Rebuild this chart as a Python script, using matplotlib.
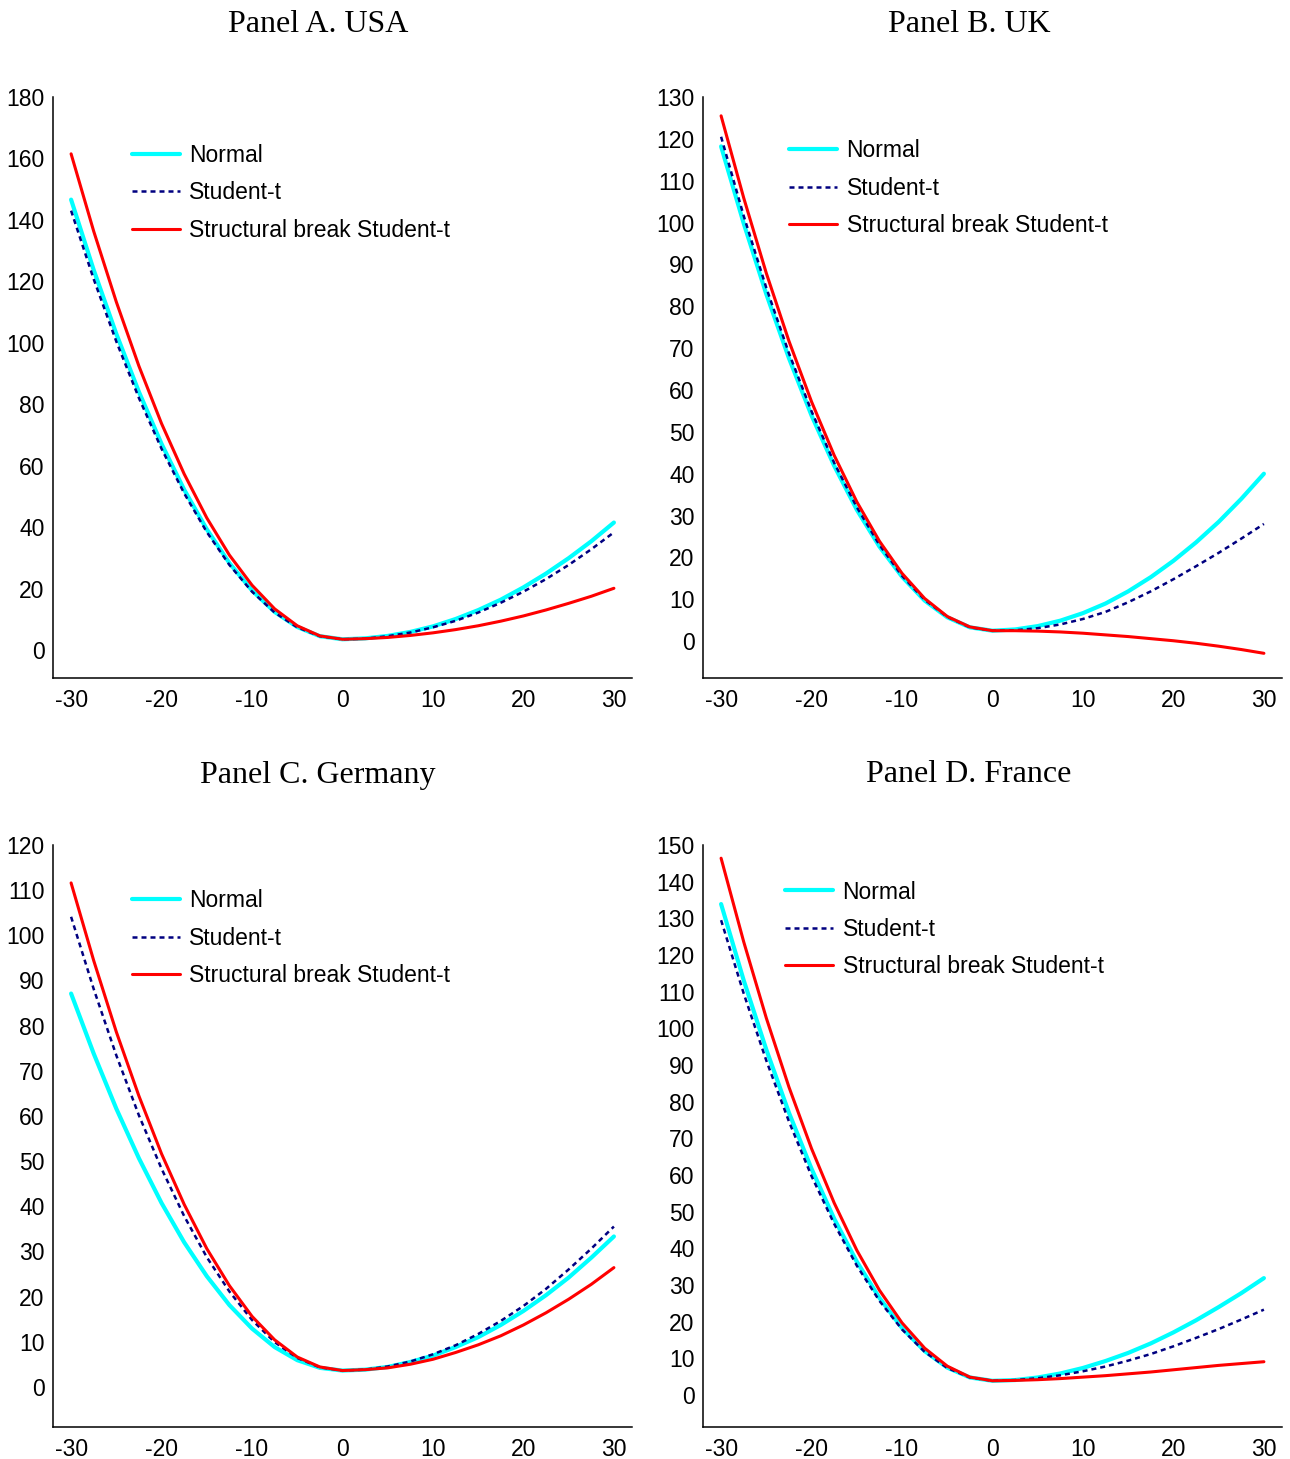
import matplotlib
matplotlib.use("Agg")
import matplotlib.pyplot as plt
from matplotlib import font_manager

plt.rcParams["axes.unicode_minus"] = False

# shock grid (x axis) shared by all panels
shock = [-30, -27.5, -25, -22.5, -20, -17.5, -15, -12.5, -10, -7.5, -5, -2.5, 0,
         2.5, 5, 7.5, 10, 12.5, 15, 17.5, 20, 22.5, 25, 27.5, 30]

titles = ["Panel A. USA", "Panel B. UK", "Panel C. Germany", "Panel D. France"]
labels = ["Normal", "Student-t", "Structural break Student-t"]

usa_normal = [146.6, 123.7, 102.9, 84.0, 67.1, 52.2, 39.3, 28.3, 19.4, 12.4, 7.5, 4.5, 3.5,
              3.8, 4.6, 5.9, 7.7, 10.1, 13.0, 16.4, 20.4, 24.9, 29.9, 35.4, 41.5]
usa_student = [143.0, 120.7, 100.4, 82.0, 65.5, 51.0, 38.4, 27.7, 19.0, 12.2, 7.4, 4.5, 3.5,
               3.7, 4.5, 5.7, 7.4, 9.5, 12.2, 15.4, 19.0, 23.1, 27.7, 32.8, 38.3]
usa_break = [161.5, 136.3, 113.3, 92.4, 73.7, 57.3, 43.0, 30.9, 21.1, 13.4, 7.9, 4.6, 3.5,
             3.7, 4.1, 4.75, 5.6, 6.65, 7.9, 9.4, 11.1, 13.05, 15.2, 17.5, 20.1]

uk_normal = [118.2, 99.8, 82.9, 67.6, 53.9, 41.9, 31.4, 22.6, 15.4, 9.7, 5.7, 3.3, 2.5,
             2.8, 3.6, 4.9, 6.7, 9.0, 11.9, 15.3, 19.2, 23.6, 28.5, 34.0, 40.0]
uk_student = [120.5, 101.6, 84.4, 68.8, 54.9, 42.6, 32.0, 23.0, 15.6, 9.9, 5.8, 3.3, 2.5,
              2.6, 3.1, 4.0, 5.3, 7.0, 9.3, 11.9, 14.8, 17.9, 21.1, 24.5, 28.0]
uk_break = [125.5, 105.9, 87.9, 71.7, 57.2, 44.4, 33.3, 23.9, 16.2, 10.2, 5.9, 3.4, 2.5,
            2.5, 2.4, 2.2, 1.9, 1.5, 1.1, 0.6, 0.1, -0.5, -1.2, -2.0, -2.9]

ger_normal = [87.1, 73.8, 61.6, 50.6, 40.7, 32.0, 24.5, 18.1, 12.9, 8.8, 5.9, 4.2, 3.6,
              3.8, 4.4, 5.5, 6.9, 8.8, 11.0, 13.7, 16.8, 20.3, 24.2, 28.6, 33.3]
ger_student = [104.1, 88.1, 73.4, 60.1, 48.3, 37.8, 28.7, 21.1, 14.8, 9.9, 6.4, 4.3, 3.6,
               3.8, 4.5, 5.6, 7.2, 9.2, 11.7, 14.6, 17.9, 21.7, 26.0, 30.6, 35.5]
ger_break = [111.6, 94.4, 78.6, 64.4, 51.6, 40.4, 30.6, 22.4, 15.6, 10.4, 6.6, 4.4, 3.6,
             3.8, 4.2, 5.0, 6.1, 7.6, 9.3, 11.3, 13.7, 16.4, 19.4, 22.7, 26.4]

fra_normal = [133.9, 113.1, 94.2, 77.0, 61.7, 48.1, 36.4, 26.5, 18.3, 12.0, 7.5, 4.8, 3.9,
              4.1, 4.8, 5.9, 7.4, 9.3, 11.5, 14.1, 17.1, 20.4, 24.0, 27.8, 31.9]
fra_student = [129.5, 109.5, 91.2, 74.6, 59.7, 46.7, 35.3, 25.7, 17.9, 11.8, 7.4, 4.8, 3.9,
               4.1, 4.6, 5.4, 6.5, 7.8, 9.4, 11.2, 13.3, 15.6, 18.0, 20.6, 23.3]
fra_break = [146.4, 123.6, 102.8, 84.0, 67.2, 52.4, 39.5, 28.6, 19.7, 12.8, 7.9, 4.9, 3.9,
             4.0, 4.2, 4.5, 4.9, 5.3, 5.8, 6.3, 6.9, 7.5, 8.1, 8.6, 9.1]

panels = [
    (usa_normal, usa_student, usa_break),
    (uk_normal, uk_student, uk_break),
    (ger_normal, ger_student, ger_break),
    (fra_normal, fra_student, fra_break),
]
y_ticks = [range(0, 181, 20), range(0, 131, 10), range(0, 121, 10), range(0, 151, 10)]
y_lims = [(-9.1, 180), (-8.8, 130), (-8.9, 120), (-8.7, 150)]
x_ticks = [-30, -20, -10, 0, 10, 20, 30]

# fonts: narrow sans for axes if present, serif for titles
avail = {f.name for f in font_manager.fontManager.ttflist}
sans = "Liberation Sans Narrow" if "Liberation Sans Narrow" in avail else "Liberation Sans"
fs = 19 if sans == "Liberation Sans Narrow" else 16.5

W, H = 1290, 1459
fig = plt.figure(figsize=(W / 100, H / 100), dpi=100)

# axes boxes in pixels: left, top, right, bottom
boxes = [(53, 97, 632, 678), (703, 97, 1282, 678), (53, 845, 632, 1427), (703, 845, 1282, 1427)]
leg_anchor = [(0.136, 0.919), (0.149, 0.927), (0.136, 0.924), (0.142, 0.939)]
title_pos = [(318, 25), (969, 25), (318, 775), (969, 775)]

styles = [
    dict(color="#00FFFF", lw=3.0, solid_capstyle="round"),
    dict(color="#000080", lw=1.8, linestyle=(0, (2.0, 1.6))),
    dict(color="#FF0000", lw=2.2, solid_capstyle="round"),
]

for i, series in enumerate(panels):
    l, t, r, b = boxes[i]
    ax = fig.add_axes([l / W, 1 - b / H, (r - l) / W, (b - t) / H])
    for ys, st, lab in zip(series, styles, labels):
        ax.plot(shock, ys, label=lab, **st)
    ax.set_xlim(-32, 32)
    ax.set_ylim(*y_lims[i])
    ax.set_xticks(x_ticks)
    ax.set_yticks(list(y_ticks[i]))
    for s in ["top", "right"]:
        ax.spines[s].set_visible(False)
    for s in ["left", "bottom"]:
        ax.spines[s].set_linewidth(1.1)
        ax.spines[s].set_color("black")
    ax.tick_params(axis="y", length=0, pad=6, labelsize=fs)
    ax.tick_params(axis="x", length=0, pad=8, labelsize=fs)
    for lbl in ax.get_xticklabels() + ax.get_yticklabels():
        lbl.set_fontfamily(sans)
    ax.legend(loc="upper left", bbox_to_anchor=leg_anchor[i], frameon=False,
              borderpad=0, borderaxespad=0, handlelength=2.1, handletextpad=0.4,
              labelspacing=0.63, prop={"family": sans, "size": fs})
    tx, ty = title_pos[i]
    fig.text(tx / W, 1 - ty / H, titles[i], ha="center", va="center",
             family="Liberation Serif", fontsize=23)

fig.savefig("out.png", dpi=100)
